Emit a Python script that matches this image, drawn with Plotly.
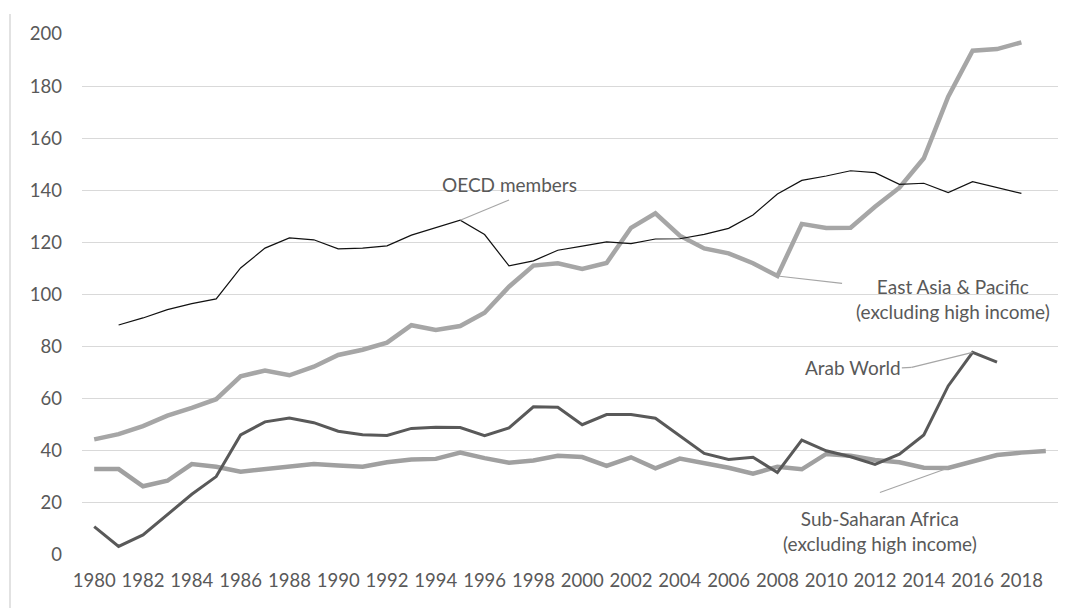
import plotly.graph_objects as go

oecd_years = list(range(1981, 2019))
oecd = [88.3, 91.0, 94.2, 96.5, 98.3, 110.2, 117.8, 121.7, 121.0, 117.5,
        117.8, 118.7, 122.8, 125.5, 128.5, 123.0, 111.0, 112.9, 117.0, 118.6,
        120.2, 119.5, 121.3, 121.4, 123.1, 125.4, 130.5, 138.6, 143.8, 145.5,
        147.5, 146.8, 142.3, 142.7, 139.1, 143.3, 141.0, 138.8]

eap_years = list(range(1980, 2019))
east_asia = [44.4, 46.4, 49.5, 53.5, 56.5, 59.8, 68.6, 70.8, 69.0, 72.3,
             76.8, 78.8, 81.5, 88.2, 86.4, 87.9, 93.0, 103.0, 111.1, 112.0,
             109.8, 112.1, 125.6, 131.2, 122.6, 117.7, 115.8, 112.0, 107.1, 127.1,
             125.5, 125.6, 133.7, 141.0, 152.3, 175.9, 193.6, 194.2, 196.8]

arab_years = list(range(1980, 2018))
arab = [10.9, 3.3, 7.7, 15.4, 23.3, 30.1, 46.1, 51.1, 52.6, 50.8,
        47.5, 46.2, 45.9, 48.6, 49.0, 48.9, 45.8, 48.8, 56.9, 56.7,
        50.0, 53.9, 53.9, 52.5, 45.7, 39.0, 36.7, 37.5, 31.7, 44.1,
        40.0, 37.7, 34.8, 38.7, 46.1, 64.9, 77.8, 74.0]

ssa_years = list(range(1980, 2020))
ssa = [33.0, 33.0, 26.4, 28.5, 34.9, 33.9, 32.0, 32.9, 33.9, 34.9,
       34.4, 33.9, 35.6, 36.7, 36.9, 39.3, 37.2, 35.4, 36.3, 38.1,
       37.6, 34.2, 37.5, 33.3, 37.0, 35.4, 33.5, 31.2, 33.9, 32.9,
       38.8, 38.1, 36.5, 35.6, 33.5, 33.4, 35.8, 38.4, 39.3, 39.9]

tick_years = list(range(1980, 2019, 2))
y_ticks = list(range(0, 201, 20))

FONT = "Lato"
TXT = "#595959"

# page body has an 8px default margin; size the figure to fit the window
W, H = 1071, 600
ML, MR, MT, MB = 74, 21, 26, 53
PW = W - ML - MR
PH = H - MT - MB

fig = go.Figure()
fig.add_trace(go.Scatter(x=ssa_years, y=ssa, mode="lines",
                         line=dict(color="#A0A0A0", width=4.5), name="Sub-Saharan Africa"))
fig.add_trace(go.Scatter(x=eap_years, y=east_asia, mode="lines",
                         line=dict(color="#A6A6A6", width=4.5), name="East Asia & Pacific"))
fig.add_trace(go.Scatter(x=arab_years, y=arab, mode="lines",
                         line=dict(color="#595959", width=3), name="Arab World"))
fig.add_trace(go.Scatter(x=oecd_years, y=oecd, mode="lines",
                         line=dict(color="#111111", width=1.2), name="OECD members"))

# leader lines (data coordinates)
lc = "#A6A6A6"
fig.add_shape(type="line", x0=1995, y0=oecd[oecd_years.index(1995)], x1=1997.0, y1=136.3,
              line=dict(color=lc, width=1.2))
fig.add_shape(type="line", x0=2008, y0=east_asia[eap_years.index(2008)], x1=2010.65, y1=104.3,
              line=dict(color=lc, width=1.2))
fig.add_shape(type="line", x0=2013.1, y0=71.8, x1=2013.5, y1=72.0,
              line=dict(color=lc, width=1.2))
fig.add_shape(type="line", x0=2013.5, y0=72.0, x1=2016, y1=arab[arab_years.index(2016)],
              line=dict(color=lc, width=1.2))
fig.add_shape(type="line", x0=2012.2, y0=24.0, x1=2015, y1=ssa[ssa_years.index(2015)],
              line=dict(color=lc, width=1.2))

ann_font = dict(family=FONT, size=19, color=TXT)
fig.add_annotation(x=1997.0, y=142.3, text="OECD members", showarrow=False, font=ann_font)
fig.add_annotation(x=2015.2, y=98.3, text="East Asia & Pacific<br>(excluding high income)",
                   showarrow=False, font=ann_font, align="center")
fig.add_annotation(x=2011.1, y=71.8, text="Arab World", showarrow=False, font=ann_font)
fig.add_annotation(x=2012.2, y=9.3, text="Sub-Saharan Africa<br>(excluding high income)",
                   showarrow=False, font=ann_font, align="center")

# left border line of chart frame
fig.add_shape(type="line", xref="paper", yref="paper",
              x0=(2 - ML) / PW, x1=(2 - ML) / PW, y0=-MB / PH, y1=(PH + MT - 6) / PH,
              line=dict(color="#D9D9D9", width=1.5))

fig.update_layout(
    width=W, height=H,
    margin=dict(l=ML, r=MR, t=MT, b=MB),
    plot_bgcolor="white", paper_bgcolor="white",
    showlegend=False,
    font=dict(family=FONT, size=18, color=TXT),
)
fig.update_xaxes(range=[1979.5, 2019.5], tickvals=tick_years, ticktext=[str(t) for t in tick_years],
                 showgrid=False, zeroline=False, showline=False, ticks="",
                 tickfont=dict(family=FONT, size=18.5, color=TXT), ticklabelstandoff=12)
fig.update_yaxes(range=[0, 200], tickvals=y_ticks, showgrid=True, gridcolor="#D9D9D9",
                 gridwidth=1.3, zeroline=False, showline=False, ticks="",
                 tickfont=dict(family=FONT, size=18.5, color=TXT), ticklabelstandoff=19)

fig.write_html("out.html")
